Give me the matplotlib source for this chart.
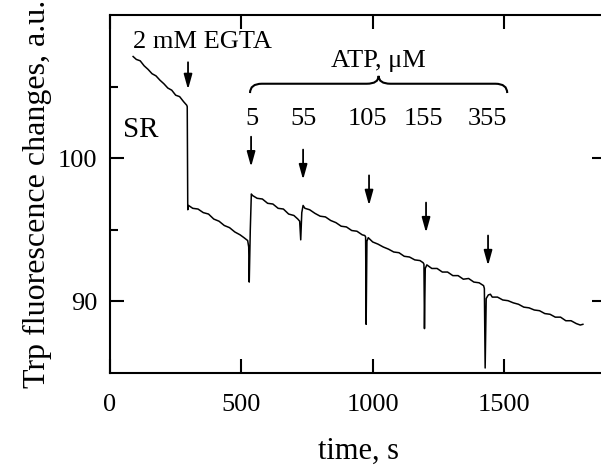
import matplotlib

matplotlib.use("Agg")
import matplotlib.pyplot as plt
from matplotlib.path import Path
from matplotlib.patches import PathPatch


# trace: time (s) and Trp fluorescence (a.u.)
time_s = [
    88, 100, 115, 130, 145, 160, 175, 190, 205, 220, 235, 250, 265, 280, 292,
    294, 296, 299,
    315, 335, 355, 375, 395, 415, 435, 455, 475, 495, 510, 524,
    528, 530, 534, 538, 542,
    560, 580, 600, 620, 640, 660, 680, 700, 715, 722,
    726, 730, 735, 742,
    760, 780, 800, 820, 840, 860, 880, 900, 920, 940, 960, 970,
    973, 975, 978, 983,
    1000, 1020, 1040, 1060, 1080, 1100, 1120, 1140, 1160, 1180, 1192,
    1195, 1197, 1200, 1206,
    1225, 1245, 1265, 1285, 1305, 1325, 1345, 1365, 1385, 1405, 1422,
    1425, 1428, 1432, 1440, 1448, 1455,
    1475, 1495, 1515, 1535, 1555, 1575, 1595, 1615, 1635, 1655, 1675,
    1695, 1715, 1735, 1755, 1775, 1790, 1800,
]
signal = [
    107.1, 106.9, 106.8, 106.45, 106.2, 105.9, 105.75, 105.45, 105.2, 104.9, 104.75, 104.4, 104.3, 103.95, 103.7,
    103.6, 96.4, 96.7,
    96.5, 96.45, 96.2, 96.1, 95.75, 95.6, 95.3, 95.15, 94.85, 94.65, 94.45, 94.25,
    93.8, 91.35, 95.0, 97.5, 97.4,
    97.2, 97.15, 96.85, 96.8, 96.5, 96.45, 96.1, 96.0, 95.75, 95.6,
    94.3, 96.2, 96.7, 96.5,
    96.4, 96.15, 95.95, 95.9, 95.65, 95.5, 95.25, 95.2, 94.95, 94.9, 94.65, 94.6,
    94.5, 88.4, 94.2, 94.45,
    94.15, 94.0, 93.8, 93.65, 93.45, 93.4, 93.15, 93.1, 92.9, 92.85, 92.7,
    92.6, 88.1, 92.3, 92.55,
    92.3, 92.3, 92.05, 92.05, 91.8, 91.8, 91.55, 91.6, 91.35, 91.3, 91.1,
    90.9, 85.35, 90.2, 90.45, 90.5, 90.3,
    90.3, 90.1, 90.05, 89.9, 89.8, 89.6, 89.55, 89.4, 89.35, 89.15, 89.1,
    88.9, 88.9, 88.65, 88.65, 88.45, 88.35, 88.4,
]

# additions: label, time of arrow, arrow tail and tip values
egta_time = 297
egta_arrow = (106.7, 104.8)
atp_doses = ["5", "55", "105", "155", "355"]
atp_label_times = [541, 735, 979, 1192, 1436]
atp_arrow_times = [537, 735, 986, 1203, 1439]
atp_arrow_tails = [101.5, 100.6, 98.8, 96.9, 94.6]
atp_arrow_tips = [99.4, 98.5, 96.7, 94.8, 92.5]


def brace(ax, x0, x1, y_end, y_bar, y_tip, r):
    xm = (x0 + x1) / 2
    verts = [
        (x0, y_end), (x0, y_bar), (x0 + r, y_bar),
        (xm - r, y_bar), (xm, y_bar), (xm, y_tip),
        (xm, y_bar), (xm + r, y_bar),
        (x1 - r, y_bar), (x1, y_bar), (x1, y_end),
    ]
    codes = [
        Path.MOVETO, Path.CURVE3, Path.CURVE3,
        Path.LINETO, Path.CURVE3, Path.CURVE3,
        Path.CURVE3, Path.CURVE3,
        Path.LINETO, Path.CURVE3, Path.CURVE3,
    ]
    ax.add_patch(PathPatch(Path(verts, codes), fill=False, lw=1.5, color="black"))


def arrow(ax, t, tail, tip):
    ax.annotate(
        "", xy=(t, tip), xytext=(t, tail),
        arrowprops=dict(arrowstyle="-|>,head_length=0.9,head_width=0.25",
                        color="black", lw=1.3, shrinkA=0, shrinkB=0,
                        mutation_scale=10),
    )


plt.rcParams["font.family"] = ["Liberation Serif", "DejaVu Serif"]

fig = plt.figure(figsize=(6.01, 4.71), dpi=100)
ax = fig.add_axes([110 / 601, 98 / 471, 496 / 601, 358 / 471])

ax.plot(time_s, signal, color="black", lw=1.1)

ax.set_xlim(0, 1888)
ax.set_ylim(85, 110)
ax.set_xticks([0, 500, 1000, 1500])
ax.set_yticks([90, 100])
ax.set_yticks([95, 105], minor=True)

for side in ["left", "right", "top", "bottom"]:
    ax.spines[side].set_linewidth(1.5)
ax.tick_params(axis="both", which="major", direction="in", length=10, width=1.5,
               labelsize=19, top=True, right=True)
ax.tick_params(axis="y", which="major", pad=9)
ax.tick_params(axis="x", which="major", pad=15)
ax.tick_params(axis="y", which="minor", direction="in", length=6, width=1.5,
               left=True, right=False)

ax.set_xlabel("time, s", fontsize=22, labelpad=15)
ax.set_ylabel("Trp fluorescence changes, a.u.", fontsize=23, labelpad=4)

ax.text(350, 107.7, "2 mM EGTA", fontsize=19, ha="center", va="baseline")
arrow(ax, egta_time, *egta_arrow)
ax.text(49, 101.5, "SR", fontsize=21, ha="left", va="baseline")

ax.text(1020, 106.37, "ATP, μM", fontsize=19, ha="center", va="baseline")
brace(ax, 533, 1512, 104.55, 105.2, 105.75, 45)
for dose, t in zip(atp_doses, atp_label_times):
    ax.text(t, 102.3, dose, fontsize=19, ha="center", va="baseline")
for t, tail, tip in zip(atp_arrow_times, atp_arrow_tails, atp_arrow_tips):
    arrow(ax, t, tail, tip)

fig.savefig("out.png", dpi=100, facecolor="white")
plt.close(fig)
